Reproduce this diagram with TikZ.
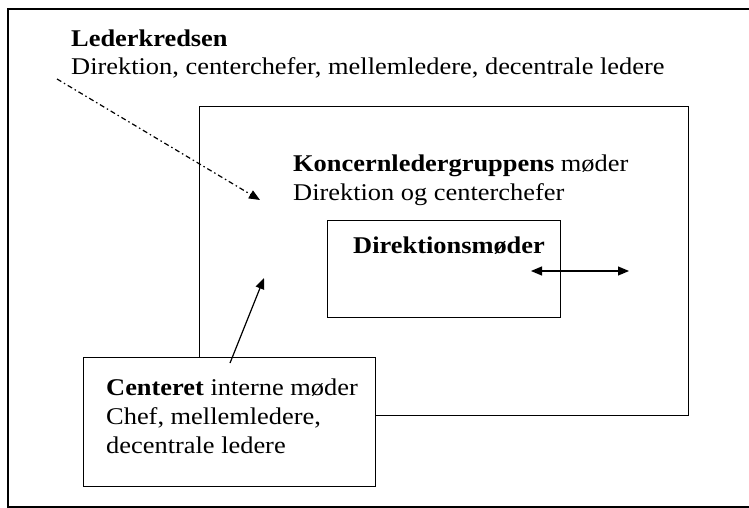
\documentclass[tikz,border=0pt]{standalone}
\usepackage{fontspec}
\setmainfont{Liberation Serif}[FakeStretch=1.1]
\usetikzlibrary{arrows.meta}

\begin{document}
\begin{tikzpicture}[x=1pt, y=-1pt, font=\fontsize{24}{29}\selectfont,
    box/.style={draw, line width=1.3pt, inner sep=0pt, anchor=north west},
    txt/.style={anchor=base west, inner sep=0pt},
    tip/.style={-{Triangle[length=11pt,width=9pt]}, line width=1.2pt}]
  \useasboundingbox (0,0) rectangle (749,508);
  % boxes
  \node[box, line width=1.8pt, minimum width=770pt, minimum height=498pt] (kreds) at (7,8) {};
  \node[box, minimum width=489pt, minimum height=309pt] (koncern) at (199,106) {};
  \node[box, minimum width=233pt, minimum height=97pt] (direktion) at (327,220) {};
  \node[box, fill=white, minimum width=292pt, minimum height=129pt] (center) at (83,357) {};
  % texts
  \node[txt] (kreds1) at (71,47) {\textbf{Lederkredsen}};
  \node[txt] (kreds2) at (71,75) {Direktion, centerchefer, mellemledere, decentrale ledere};
  \node[txt] (koncern1) at (293,171) {\textbf{Koncernledergruppens} møder};
  \node[txt] (koncern2) at (293,200) {Direktion og centerchefer};
  \node[txt] (direktion1) at (353,253) {\textbf{Direktionsmøder}};
  \node[txt] (center1) at (106,395) {\textbf{Centeret} interne møder};
  \node[txt] (center2) at (106,424) {Chef, mellemledere,};
  \node[txt] (center3) at (106,453) {decentrale ledere};
  % arrows
  \coordinate (a1) at (57,79);
  \coordinate (a2) at (260,200);
  \coordinate (b1) at (230,363);
  \coordinate (b2) at (264,278);
  \coordinate (c1) at (531,271);
  \coordinate (c2) at (629,271);
  \draw[tip, dash pattern=on 5pt off 3pt on 1.5pt off 3pt] (a1) -- (a2);
  \draw[tip] (b1) -- (b2);
  \draw[tip, {Triangle[length=11pt,width=9pt]}-{Triangle[length=11pt,width=9pt]}] (c1) -- (c2);
\end{tikzpicture}
\end{document}
